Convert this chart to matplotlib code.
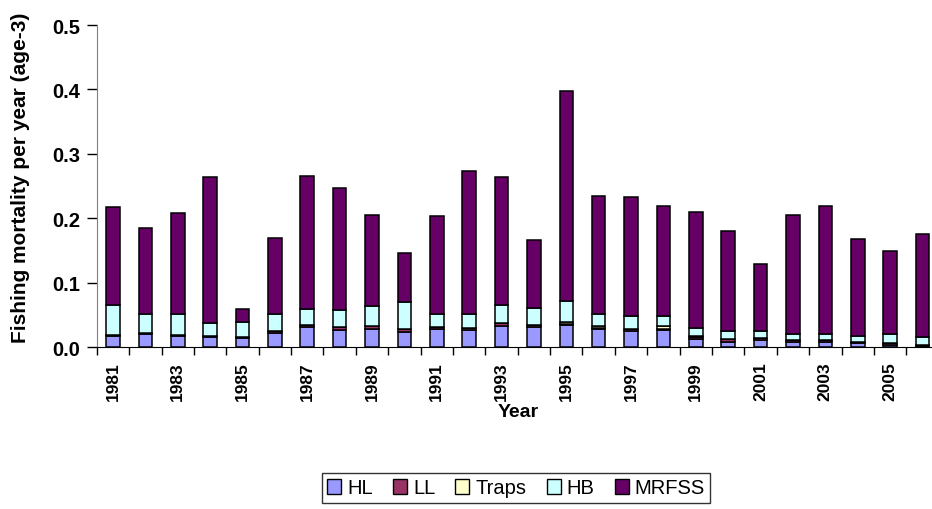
#!/usr/bin/env python3
"""
Stacked bar chart of fishing mortality per year (age-3) by fleet.
"""

import numpy as np
import matplotlib
matplotlib.use('Agg')
import matplotlib.pyplot as plt
from matplotlib.patches import Patch
from matplotlib.ticker import FixedLocator, FormatStrFormatter

# Data
years = list(range(1981, 2007))
hl = [0.018, 0.020, 0.018, 0.016, 0.015, 0.022, 0.031, 0.027, 0.029, 0.024,
      0.028, 0.027, 0.033, 0.031, 0.034, 0.028, 0.026, 0.027, 0.013, 0.009,
      0.011, 0.009, 0.008, 0.007, 0.004, 0.002]
ll = [0.001, 0.002, 0.001, 0.001, 0.001, 0.003, 0.004, 0.004, 0.004, 0.004,
      0.004, 0.003, 0.004, 0.003, 0.002, 0.002, 0.003, 0.002, 0.003, 0.004,
      0.003, 0.002, 0.003, 0.002, 0.002, 0.002]
traps = [0, 0, 0, 0, 0, 0, 0, 0, 0, 0,
         0, 0, 0, 0, 0.003, 0.003, 0, 0.004, 0.001, 0,
         0, 0, 0, 0, 0, 0]
hb = [0.046, 0.029, 0.032, 0.020, 0.024, 0.026, 0.025, 0.027, 0.031, 0.042,
      0.019, 0.022, 0.028, 0.027, 0.033, 0.018, 0.020, 0.016, 0.013, 0.013,
      0.011, 0.010, 0.009, 0.008, 0.015, 0.012]
mrfss = [0.152, 0.134, 0.158, 0.228, 0.019, 0.119, 0.206, 0.189, 0.142, 0.076,
         0.153, 0.222, 0.200, 0.106, 0.326, 0.184, 0.184, 0.170, 0.180, 0.154,
         0.104, 0.184, 0.199, 0.151, 0.128, 0.160]

series_names = ['HL', 'LL', 'Traps', 'HB', 'MRFSS']
series_colors = ['#9999FF', '#993366', '#FFFFCC', '#CCFFFF', '#660066']

font = 'Liberation Sans'


def main():
    fig = plt.figure(figsize=(9.32, 5.10), dpi=100)
    # axes runs a little past the right edge, like the original
    ax = fig.add_axes([0.1038, 0.317, 0.9034, 0.632])

    x = np.arange(len(years))
    bottom = np.zeros(len(years))
    for vals, color in zip([hl, ll, traps, hb, mrfss], series_colors):
        vals = np.array(vals)
        ax.bar(x, vals, width=0.42, bottom=bottom, color=color,
               edgecolor='black', linewidth=1.1, zorder=3)
        bottom += vals

    ax.set_xlim(-0.5, len(years) - 0.5)
    ax.set_ylim(0, 0.5)

    # y axis
    ax.set_yticks(np.arange(0, 0.51, 0.1))
    ax.yaxis.set_major_formatter(FormatStrFormatter('%.1f'))
    ax.tick_params(axis='y', direction='out', length=7, width=1,
                   labelsize=14.5, pad=5)
    for lab in ax.get_yticklabels():
        lab.set_fontweight('bold')
        lab.set_family(font)

    # x axis: labels every other year, ticks between categories
    ax.set_xticks(x[::2])
    ax.set_xticklabels([str(y) for y in years[::2]], rotation=90,
                       fontweight='bold', fontsize=12.5, family=font)
    ax.tick_params(axis='x', which='major', length=0, pad=10)
    ax.xaxis.set_minor_locator(FixedLocator(np.arange(-0.5, len(years), 1)))
    ax.tick_params(axis='x', which='minor', direction='out', length=6, width=1)

    ax.spines['top'].set_visible(False)
    ax.spines['right'].set_visible(False)
    ax.spines['left'].set_color('#808080')
    ax.spines['bottom'].set_color('black')

    ax.set_ylabel('Fishing mortality per year (age-3)', fontsize=15,
                  fontweight='bold', family=font)
    ax.yaxis.set_label_coords(-0.079, 0.53)
    ax.set_xlabel('Year', fontsize=14, fontweight='bold', family=font,
                  labelpad=2)

    # legend below the chart
    handles = [Patch(facecolor=c, edgecolor='black', linewidth=1, label=n)
               for n, c in zip(series_names, series_colors)]
    fig.legend(handles=handles, loc='center', bbox_to_anchor=(516 / 932, 1 - 489 / 510),
               ncol=5, frameon=True, fancybox=False, edgecolor='black',
               prop={'family': font, 'size': 14.5}, handlelength=0.7,
               handleheight=0.7, handletextpad=0.3, columnspacing=1.0,
               borderpad=0.25)

    fig.savefig('out.png', dpi=100)


if __name__ == '__main__':
    main()
